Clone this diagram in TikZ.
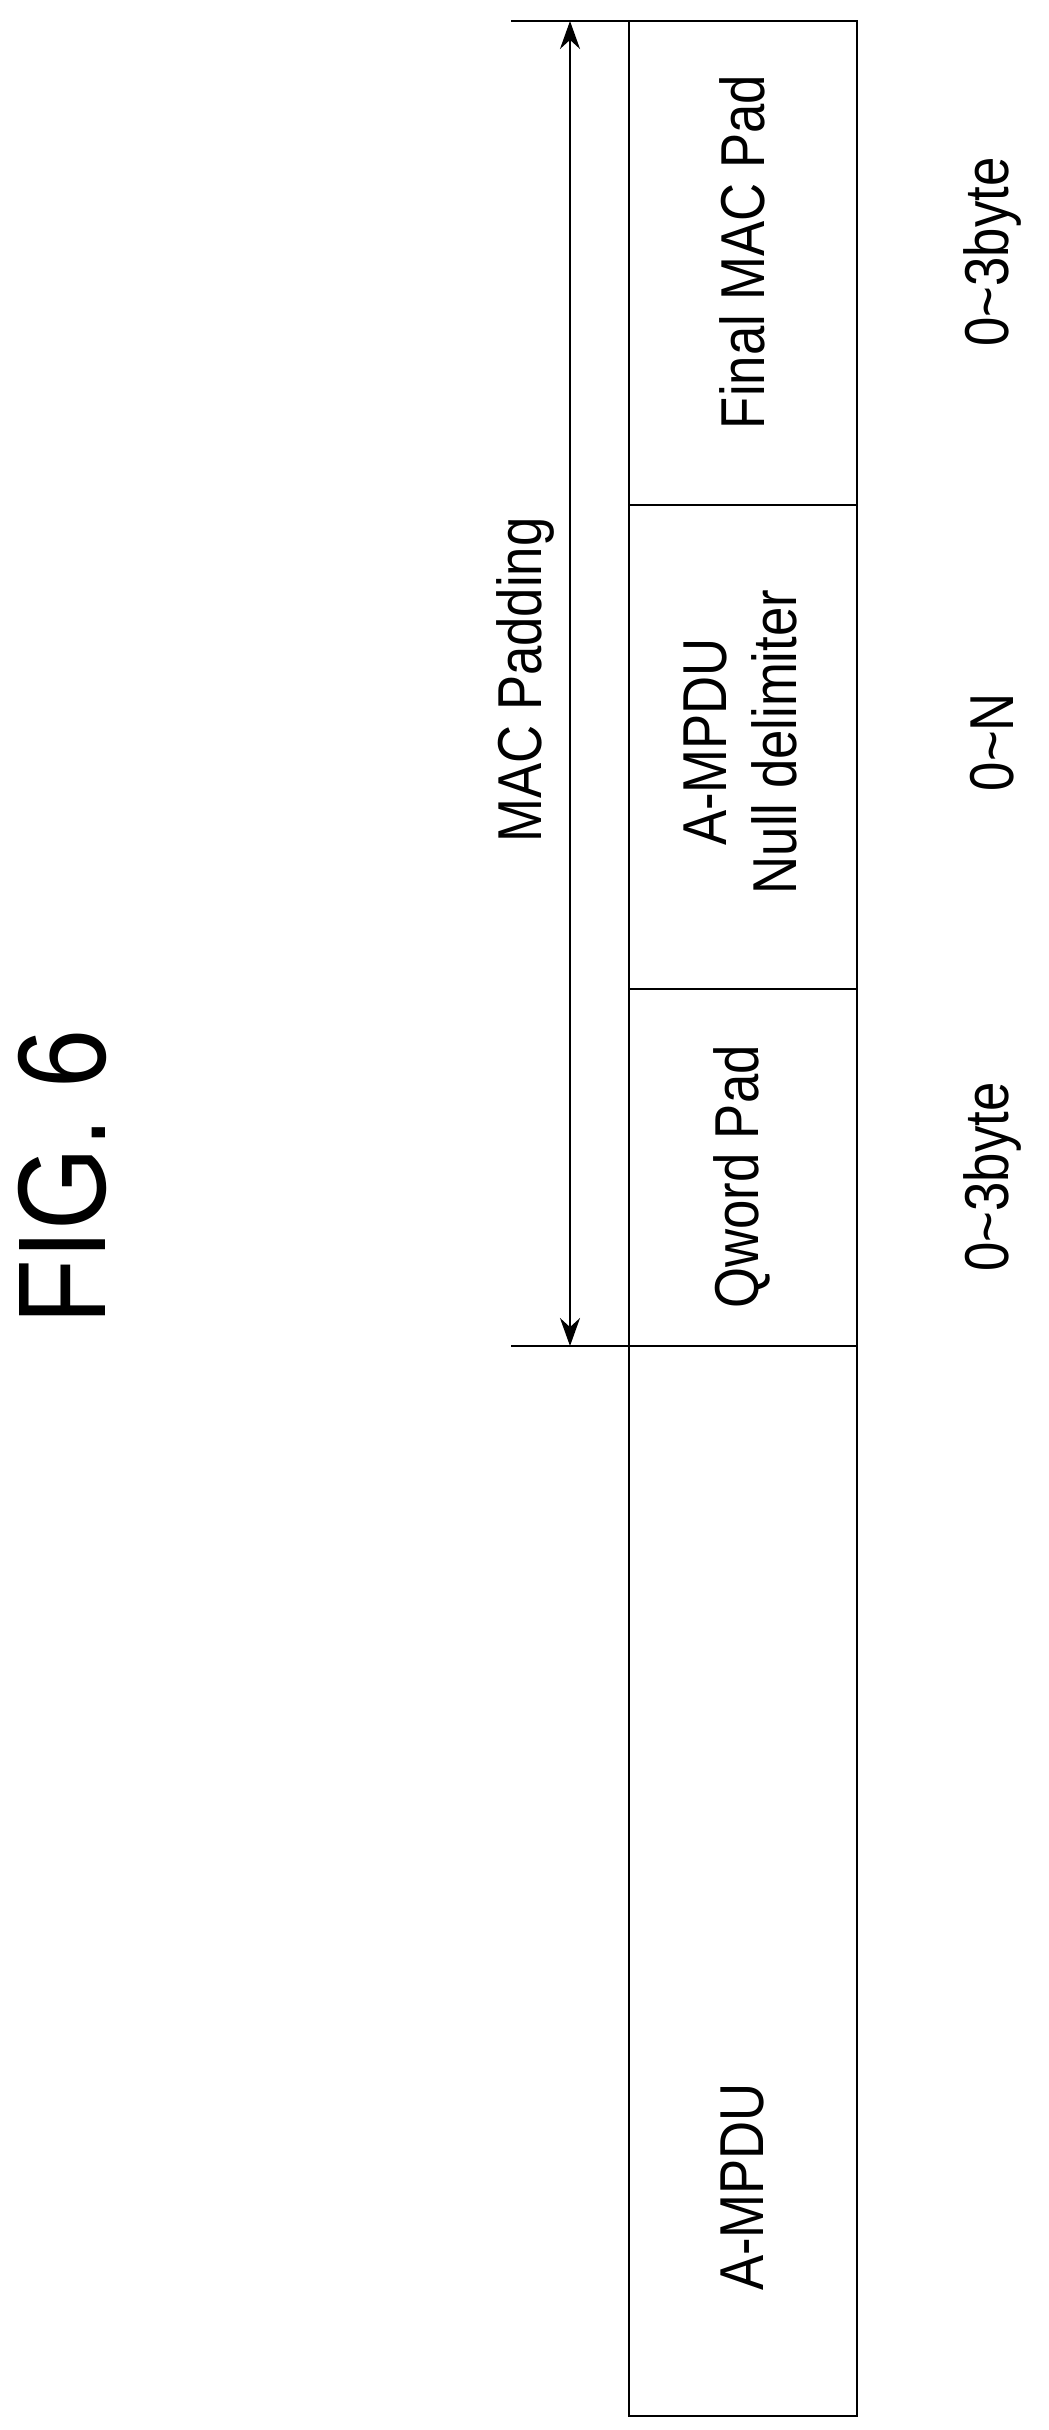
\documentclass[tikz,border=0pt]{standalone}
\usepackage{fontspec}
\usetikzlibrary{arrows.meta}
\setmainfont{Liberation Sans}
\begin{document}
\begin{tikzpicture}[x=1pt,y=-1pt,
  lbl/.style={rotate=90,font=\fontsize{62}{70}\selectfont,xscale=0.85,align=center},
  ln/.style={line width=1.8pt}]
\useasboundingbox (0,0) rectangle (1049,2430);
\node[lbl,font=\fontsize{125}{130}\selectfont] (fig) at (62,1177) {FIG. 6};
\draw[ln] (629,21) rectangle (857,2416);
\draw[ln] (629,505) -- (857,505);
\draw[ln] (629,989) -- (857,989);
\draw[ln] (629,1346) -- (857,1346);
\coordinate (t1) at (511,21); \coordinate (t2) at (511,1346);
\draw[ln] (t1) -- (629,21);
\draw[ln] (t2) -- (629,1346);
\coordinate (a1) at (570,21); \coordinate (a2) at (570,1346);
\draw[ln,{Stealth[length=28pt,width=20pt]}-{Stealth[length=28pt,width=20pt]}] (a1) -- (a2);
\node[lbl] (mac) at (525,680) {MAC Padding};
\node[lbl] (fin) at (742,252) {Final MAC Pad};
\node[lbl] (nul) at (740,742) {A-MPDU\\Null delimiter};
\node[lbl] (qw) at (742,1177) {Qword Pad};
\node[lbl] (amp) at (742,2187) {A-MPDU};
\node[lbl] (s1) at (992,252) {0\textasciitilde3byte};
\node[lbl] (s2) at (992,742) {0\textasciitilde N};
\node[lbl] (s3) at (992,1177) {0\textasciitilde3byte};
\end{tikzpicture}
\end{document}
